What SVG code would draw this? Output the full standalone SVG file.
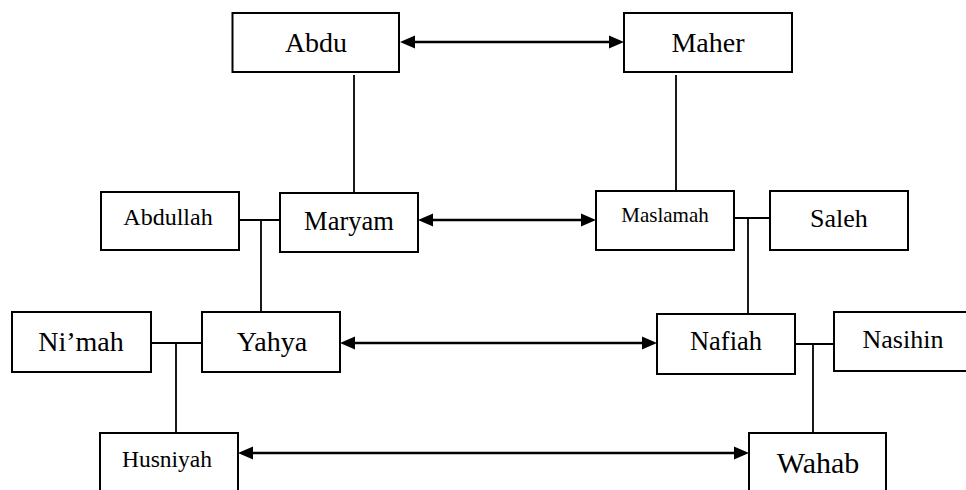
<svg xmlns="http://www.w3.org/2000/svg" width="966" height="490" viewBox="0 0 966 490">
<defs>
<style>
.box{fill:#fff;stroke:#000;stroke-width:2}
.ln{fill:none;stroke:#000;stroke-width:1.8}
.ar{fill:none;stroke:#000;stroke-width:2.6}
.hd{fill:#000;stroke:none}
.t{font-family:'Liberation Serif','Times New Roman',serif;fill:#000;text-anchor:middle}
</style>
</defs>
<rect width="966" height="490" fill="#fff"/>
<g id="connectors">
<line class="ar" x1="410" y1="42" x2="614" y2="42"/>
<polygon class="hd" points="400,42 415,35.5 415,48.5"/>
<polygon class="hd" points="624,42 609,35.5 609,48.5"/>
<line class="ar" x1="428" y1="220" x2="586" y2="220"/>
<polygon class="hd" points="418,220 433,213.5 433,226.5"/>
<polygon class="hd" points="596,220 581,213.5 581,226.5"/>
<line class="ar" x1="350" y1="343" x2="647" y2="343"/>
<polygon class="hd" points="340,343 355,336.5 355,349.5"/>
<polygon class="hd" points="657,343 642,336.5 642,349.5"/>
<line class="ar" x1="248" y1="453" x2="739" y2="453"/>
<polygon class="hd" points="238,453 253,446.5 253,459.5"/>
<polygon class="hd" points="749,453 734,446.5 734,459.5"/>
<line class="ln" x1="354" y1="75" x2="354" y2="193"/>
<line class="ln" x1="676" y1="75" x2="676" y2="191"/>
<line class="ln" x1="240" y1="220" x2="280" y2="220"/>
<line class="ln" x1="261" y1="220" x2="261" y2="312"/>
<line class="ln" x1="734" y1="218" x2="770" y2="218"/>
<line class="ln" x1="748" y1="218" x2="748" y2="314"/>
<line class="ln" x1="151" y1="343" x2="202" y2="343"/>
<line class="ln" x1="176" y1="343" x2="176" y2="433"/>
<line class="ln" x1="795" y1="344" x2="834" y2="344"/>
<line class="ln" x1="813" y1="344" x2="813" y2="433"/>
</g>
<g id="abdu"><rect class="box" x="232.5" y="13" width="166.5" height="59"/><text class="t" x="316" y="52" font-size="28">Abdu</text></g>
<g id="maher"><rect class="box" x="624" y="13" width="168" height="59"/><text class="t" x="708" y="52" font-size="28">Maher</text></g>
<g id="abdullah"><rect class="box" x="101" y="192" width="138" height="58"/><text class="t" x="168" y="225" font-size="24">Abdullah</text></g>
<g id="maryam"><rect class="box" x="280" y="193" width="138" height="59"/><text class="t" x="349" y="230" font-size="26.5">Maryam</text></g>
<g id="maslamah"><rect class="box" x="596" y="191" width="138" height="59"/><text class="t" x="665" y="222" font-size="21">Maslamah</text></g>
<g id="saleh"><rect class="box" x="770" y="191" width="138" height="59"/><text class="t" x="839" y="227" font-size="26">Saleh</text></g>
<g id="nimah"><rect class="box" x="12" y="312" width="139" height="60"/><text class="t" x="81" y="351" font-size="28">Ni’mah</text></g>
<g id="yahya"><rect class="box" x="202" y="312" width="138" height="60"/><text class="t" x="272" y="351" font-size="28">Yahya</text></g>
<g id="nafiah"><rect class="box" x="657" y="314" width="138" height="60"/><text class="t" x="726" y="350" font-size="26.5">Nafiah</text></g>
<g id="nasihin"><rect class="box" x="834" y="312" width="140" height="59"/><text class="t" x="903" y="348" font-size="26">Nasihin</text></g>
<g id="husniyah"><rect class="box" x="100" y="433" width="138" height="70"/><text class="t" x="167" y="467" font-size="23.5">Husniyah</text></g>
<g id="wahab"><rect class="box" x="749" y="433" width="137" height="70"/><text class="t" x="818" y="473" font-size="30">Wahab</text></g>
</svg>
